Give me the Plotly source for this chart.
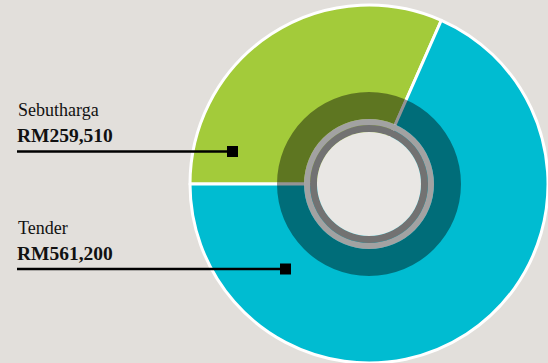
import plotly.graph_objects as go

# ---- data ----
categories = ["Sebutharga", "Tender"]
values = [259510, 561200]
value_labels = ["RM259,510", "RM561,200"]
colors = ["#a3cb3a", "#00bcd1"]

W, H = 548, 363
CX, CY = 369, 184  # pie centre in pixels (from top-left)


def dom(r):
    cy_p = H - CY
    return dict(x=[max(0, (CX - r) / W), min(1, (CX + r) / W)],
                y=[max(0, (cy_p - r) / H), min(1, (cy_p + r) / H)])


fig = go.Figure()

# main pie
fig.add_trace(go.Pie(
    labels=categories, values=values, sort=False, direction="clockwise", rotation=-90,
    marker=dict(colors=colors, line=dict(color="white", width=3)),
    textinfo="none", hoverinfo="skip", showlegend=False, domain=dom(179)))

# darker inner ring overlay
fig.add_trace(go.Pie(
    values=[1], sort=False, hole=65 / 92,
    marker=dict(colors=["rgba(0,0,0,0.42)"], line=dict(width=0)),
    textinfo="none", hoverinfo="skip", showlegend=False, domain=dom(92)))

# grey ring (light outer band)
fig.add_trace(go.Pie(
    values=[1], sort=False, hole=59 / 65,
    marker=dict(colors=["#a2a2a2"], line=dict(width=0)),
    textinfo="none", hoverinfo="skip", showlegend=False, domain=dom(65)))

# grey ring (dark inner band)
fig.add_trace(go.Pie(
    values=[1], sort=False, hole=52 / 59,
    marker=dict(colors=["#727272"], line=dict(width=0)),
    textinfo="none", hoverinfo="skip", showlegend=False, domain=dom(59)))

# lighter centre
fig.add_trace(go.Pie(
    values=[1], sort=False,
    marker=dict(colors=["#e9e7e4"], line=dict(width=0)),
    textinfo="none", hoverinfo="skip", showlegend=False, domain=dom(52)))

font_serif = "Liberation Serif, Times New Roman, serif"

label_name_y = [110, 228]
label_val_y = [135, 253]
line_y = [151.5, 269]
marker_x = [232.5, 285.5]

annotations = []
shapes = []
for i in range(2):
    annotations.append(dict(
        x=16 / W, y=1 - label_name_y[i] / H, xref="paper", yref="paper",
        xanchor="left", yanchor="middle", showarrow=False,
        text=categories[i], font=dict(family=font_serif, size=18, color="#111")))
    annotations.append(dict(
        x=15 / W, y=1 - label_val_y[i] / H, xref="paper", yref="paper",
        xanchor="left", yanchor="middle", showarrow=False,
        text="<b>" + value_labels[i] + "</b>",
        font=dict(family=font_serif, size=19.5, color="#111")))
    shapes.append(dict(type="line", xref="paper", yref="paper",
                       x0=17 / W, x1=marker_x[i] / W,
                       y0=1 - line_y[i] / H, y1=1 - line_y[i] / H,
                       line=dict(color="black", width=2.5)))
    shapes.append(dict(type="rect", xref="paper", yref="paper",
                       x0=(marker_x[i] - 5.5) / W, x1=(marker_x[i] + 5.5) / W,
                       y0=1 - (line_y[i] + 5.5) / H, y1=1 - (line_y[i] - 5.5) / H,
                       fillcolor="black", line=dict(width=0)))

fig.update_layout(
    width=W, height=H, margin=dict(l=0, r=0, t=0, b=0),
    paper_bgcolor="#e2dfdb", plot_bgcolor="#e2dfdb",
    annotations=annotations, shapes=shapes, showlegend=False)

fig.write_html("out.html", config={"displayModeBar": False},
               post_script="document.body.style.margin='0';document.body.style.overflow='hidden';")
